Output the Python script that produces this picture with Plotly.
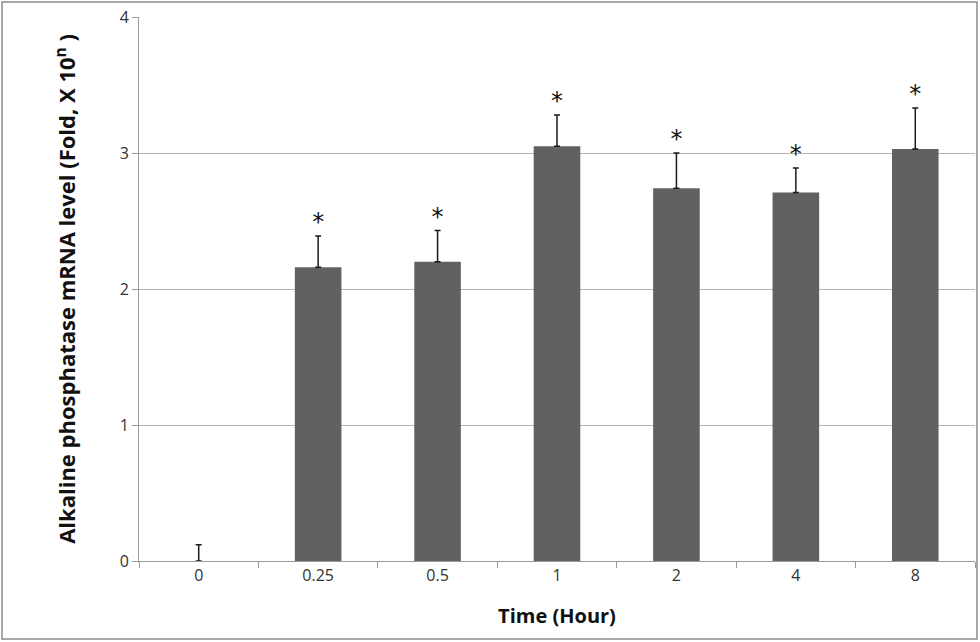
import plotly.graph_objects as go

# Data
times = ["0", "0.25", "0.5", "1", "2", "4", "8"]
levels = [0.0, 2.16, 2.20, 3.05, 2.74, 2.71, 3.03]
errors = [0.12, 0.23, 0.23, 0.23, 0.26, 0.18, 0.30]
marks = ["", "*", "*", "*", "*", "*", "*"]

fig = go.Figure()

fig.add_trace(go.Bar(
    x=times, y=levels,
    marker=dict(color="#616161", line=dict(width=0)),
    error_y=dict(type="data", array=errors, arrayminus=[0] * len(errors),
                 symmetric=False, color="#1a1a1a", thickness=1.5, width=3),
    showlegend=False,
))

# significance asterisks above the error bars (only where marked)
star_x = [t for t, m in zip(times, marks) if m]
star_y = [v + e for v, e, m in zip(levels, errors, marks) if m]
star_t = [m for m in marks if m]
fig.add_trace(go.Scatter(
    x=star_x, y=star_y,
    mode="text", text=star_t, textposition="top center",
    textfont=dict(size=24, color="#111111", family="DejaVu Sans"),
    showlegend=False, hoverinfo="skip",
))

fig.update_layout(
    width=980, height=642,
    margin=dict(l=139, r=5, t=17, b=81, autoexpand=False),
    plot_bgcolor="white", paper_bgcolor="white",
    bargap=0.61,
    font=dict(family="Open Sans, Liberation Sans, sans-serif", color="#222222"),
    shapes=[dict(type="rect", xref="paper", yref="paper",
                 x0=-137 / 836, x1=1 + 2 / 836, y0=-78 / 544, y1=1 + 15 / 544,
                 line=dict(color="#8c8c8c", width=1.5), layer="below")],
)

fig.update_xaxes(
    title=dict(text="<b>Time (Hour)</b>", font=dict(size=20, color="#111111"), standoff=23),
    showline=True, linecolor="#9a9a9a", linewidth=1,
    ticks="outside", tickson="boundaries", ticklen=6, tickcolor="#9a9a9a",
    tickfont=dict(size=16, color="#333333"),
    showgrid=False, automargin=False,
)
fig.update_yaxes(
    title=dict(text="<b>Alkaline phosphatase mRNA level (Fold, X 10<sup>n</sup> )</b>",
               font=dict(size=22, color="#111111"), standoff=37),
    range=[0, 4], dtick=1,
    showline=True, linecolor="#9a9a9a", linewidth=1,
    ticks="outside", ticklen=6, tickcolor="#9a9a9a",
    tickfont=dict(size=16, color="#333333"),
    showgrid=True, gridcolor="#b5b5b5", gridwidth=1,
    zeroline=False, automargin=False,
)

# drop the browser's default page margin so the figure fills the window
fig.write_html("out.html", config={"displayModeBar": False},
               post_script="document.body.style.margin='0';")
